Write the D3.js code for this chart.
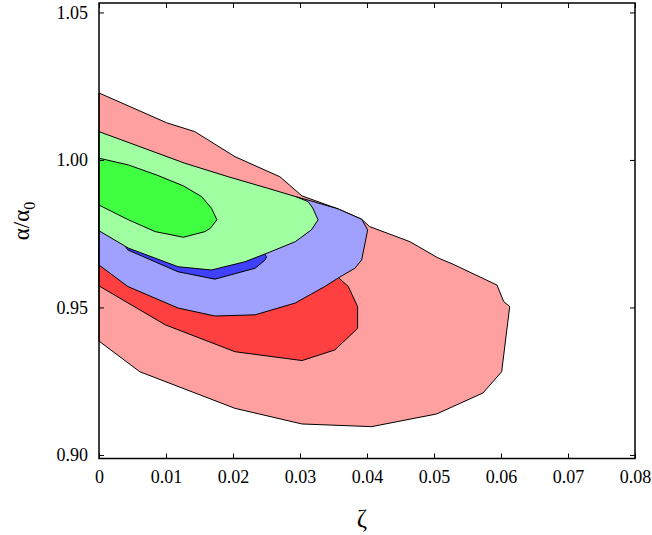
<!DOCTYPE html>
<html>
<head>
<meta charset="utf-8">
<script src="https://cdn.jsdelivr.net/npm/d3@7"></script>
<style>
  body { margin: 0; background: #fff; }
  text { font-family: "Liberation Serif", "DejaVu Serif", serif; }
</style>
</head>
<body>
<svg id="chart" width="652" height="535"></svg>
<script>
// tick values
var xTicks = [0, 0.01, 0.02, 0.03, 0.04, 0.05, 0.06, 0.07, 0.08];
var xTickLabels = ["0", "0.01", "0.02", "0.03", "0.04", "0.05", "0.06", "0.07", "0.08"];
var yTicks = [0.90, 0.95, 1.00, 1.05];
var yTickLabels = ["0.90", "0.95", "1.00", "1.05"];

// contour regions, [zeta, alpha/alpha0]
var red2 = [[0,1.0227],[0.0101,1.0126],[0.0143,1.0096],[0.0203,1.0011],[0.0270,0.9943],[0.0303,0.9878],
  [0.0357,0.9834],[0.0392,0.9799],[0.0404,0.9774],[0.0464,0.9723],[0.0506,0.9668],[0.0528,0.9647],
  [0.0594,0.9576],[0.0604,0.9520],[0.0613,0.9503],[0.0601,0.9282],[0.0573,0.9210],[0.0504,0.9139],
  [0.0407,0.9096],[0.0303,0.9105],[0.0203,0.9158],[0.0061,0.9282],[0,0.9386]];
var red1 = [[0,0.9695],[0.0151,0.9593],[0.0300,0.9576],[0.0357,0.9602],[0.0372,0.9571],[0.0386,0.9503],
  [0.0386,0.9429],[0.0352,0.9356],[0.0303,0.9320],[0.0203,0.9350],[0.0099,0.9441],[0,0.9573]];
var blue2 = [[0,0.9814],[0.0151,0.9864],[0.0293,0.9876],[0.0312,0.9864],[0.0357,0.9834],[0.0392,0.9799],
  [0.0401,0.9763],[0.0392,0.9661],[0.0382,0.9633],[0.0360,0.9604],[0.0337,0.9571],[0.0293,0.9515],
  [0.0233,0.9475],[0.0173,0.9471],[0.0118,0.9498],[0.0043,0.9571],[0,0.9644]];
var blue1 = [[0.0039,0.9708],[0.0043,0.9695],[0.0118,0.9621],[0.0173,0.9596],[0.0233,0.9633],
  [0.0248,0.9661],[0.0250,0.9672],[0.0243,0.9695],[0.0151,0.9729],[0.0061,0.9736]];
var green2 = [[0,1.0096],[0.0128,0.9989],[0.0193,0.9943],[0.0252,0.9904],[0.0293,0.9876],[0.0312,0.9859],
  [0.0319,0.9837],[0.0327,0.9797],[0.0317,0.9763],[0.0293,0.9723],[0.0252,0.9685],[0.0218,0.9655],
  [0.0168,0.9627],[0.0118,0.9638],[0.0044,0.9701],[0,0.9760]];
var green1 = [[0,1.0006],[0.0044,0.9983],[0.0086,0.9949],[0.0126,0.9912],[0.0153,0.9876],[0.0168,0.9836],
  [0.0176,0.9797],[0.0166,0.9768],[0.0158,0.9757],[0.0126,0.9738],[0.0084,0.9757],[0.0044,0.9797],[0,0.9847]];

var regions = [
  {pts: red2, fill: "#ffa0a0"},
  {pts: red1, fill: "#ff4040"},
  {pts: blue2, fill: "#a0a0ff"},
  {pts: blue1, fill: "#4040ff"},
  {pts: green2, fill: "#a0ffa0"},
  {pts: green1, fill: "#40ff40"}
];

// plot frame edges (note: "top" is reserved on window)
var frameL = 99, frameR = 635, frameT = 3, frameB = 458.5;
var svg = d3.select("#chart");

var x = d3.scaleLinear().domain([0, 0.08]).range([frameL, frameR]);
var y = d3.scaleLinear().domain([0.8988, 1.0532]).range([frameB, frameT]);

var line = d3.line().x(function (d) { return x(d[0]); }).y(function (d) { return y(d[1]); });

svg.selectAll("path.region")
  .data(regions)
  .enter()
  .append("path")
  .attr("class", "region")
  .attr("d", function (d) { return line(d.pts) + "Z"; })
  .attr("fill", function (d) { return d.fill; })
  .attr("stroke", "#000")
  .attr("stroke-width", 1)
  .attr("stroke-linejoin", "round");

// axes: inward ticks on all four sides
var xAxis = d3.axisBottom(x).tickValues(xTicks).tickSize(-5).tickPadding(12)
  .tickFormat(function (d, i) { return xTickLabels[i]; });
var xTop = d3.axisTop(x).tickValues(xTicks).tickSize(-5).tickFormat("");
var yAxis = d3.axisLeft(y).tickValues(yTicks).tickSize(-5).tickPadding(11)
  .tickFormat(function (d, i) { return yTickLabels[i]; });
var yRight = d3.axisRight(y).tickValues(yTicks).tickSize(-5).tickFormat("");

function styleAxis(g) {
  g.select(".domain").remove();
  g.selectAll(".tick line").attr("stroke", "#000").attr("stroke-width", 1);
  g.selectAll("text").attr("font-family", "'Liberation Serif', serif").attr("font-size", 18).attr("fill", "#000");
}

svg.append("g").attr("transform", "translate(0," + frameB + ")").call(xAxis).call(styleAxis);
svg.append("g").attr("transform", "translate(0," + frameT + ")").call(xTop).call(styleAxis);
svg.append("g").attr("transform", "translate(" + frameL + ",0)").call(yAxis).call(styleAxis);
svg.append("g").attr("transform", "translate(" + frameR + ",0)").call(yRight).call(styleAxis);

// frame
svg.append("rect")
  .attr("x", frameL).attr("y", frameT)
  .attr("width", frameR - frameL).attr("height", frameB - frameT)
  .attr("fill", "none").attr("stroke", "#000").attr("stroke-width", 1.5);

// axis titles
svg.append("text")
  .attr("x", 362).attr("y", 527)
  .attr("text-anchor", "middle")
  .attr("font-size", 25)
  .text("ζ");

var yTitle = svg.append("text")
  .attr("transform", "translate(29,221) rotate(-90)")
  .attr("text-anchor", "middle")
  .attr("font-size", 23);
yTitle.append("tspan").text("α/α");
yTitle.append("tspan").attr("font-size", 16).attr("dy", 6).text("0");
</script>
</body>
</html>
